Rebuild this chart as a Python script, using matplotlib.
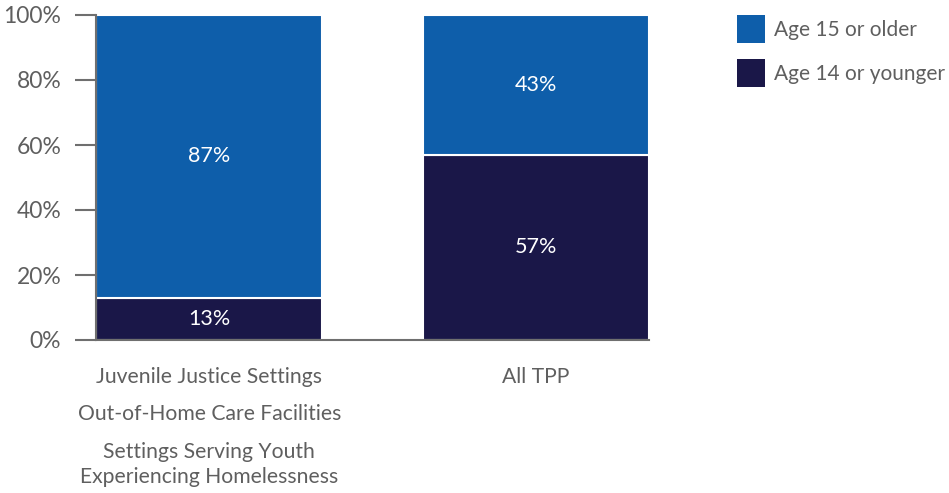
import matplotlib.pyplot as plt
import numpy as np
from matplotlib.patches import Patch

# data
categories = ['Juvenile Justice Settings\nOut-of-Home Care Facilities\nSettings Serving Youth\nExperiencing Homelessness', 'All TPP']
age14_younger = [13, 57]
age15_older = [87, 43]
series_names = ['Age 15 or older', 'Age 14 or younger']
yticks = [0, 20, 40, 60, 80, 100]

c_old = '#0E5EAA'
c_young = '#1A1748'
grey = '#5F5F5F'

plt.rcParams['font.family'] = ['Lato', 'DejaVu Sans']

fig = plt.figure(figsize=(9.49, 4.93), dpi=100)
ax = fig.add_axes([96/949, (493-340)/493, (649-96)/949, 325/493])

x = np.arange(len(categories))
w = 226/326
ax.bar(x, age14_younger, w, color=c_young, edgecolor='white', linewidth=1.5)
ax.bar(x, age15_older, w, bottom=age14_younger, color=c_old, edgecolor='white', linewidth=1.5)

for i in range(len(x)):
    ax.text(x[i], age14_younger[i]/2, '{}%'.format(age14_younger[i]), ha='center', va='center', color='white', fontsize=15.5)
    ax.text(x[i], age14_younger[i] + age15_older[i]/2, '{}%'.format(age15_older[i]), ha='center', va='center', color='white', fontsize=15.5)

ax.set_xlim(-w/2, 1 + w/2)
ax.set_ylim(0, 100)
ax.set_yticks(yticks)
ax.set_yticklabels(['{}%'.format(t) for t in yticks])
ax.tick_params(axis='y', length=15, width=1.5, color='#6F6F6F', labelcolor=grey, labelsize=16.5, pad=10)
ax.set_xticks([])
for s in ['top', 'right']:
    ax.spines[s].set_visible(False)
for s in ['left', 'bottom']:
    ax.spines[s].set_color('#6F6F6F')
    ax.spines[s].set_linewidth(1.5)

# category labels below the axis
first_lines = categories[0].split('\n')
ypos = [-11.4, -22.8, -34.5, -42.2]
for t, yy in zip(first_lines, ypos):
    ax.text(x[0], yy, t, ha='center', va='center', color=grey, fontsize=15.2, clip_on=False)
ax.text(x[1], ypos[0], categories[1], ha='center', va='center', color=grey, fontsize=15.2, clip_on=False)

handles = [Patch(facecolor=c_old), Patch(facecolor=c_young)]
fig.legend(handles, series_names, loc='upper left', bbox_to_anchor=(737/949, 1 - 15/493),
           frameon=False, fontsize=15, labelcolor=grey, handlelength=1.35, handleheight=1.7,
           handletextpad=0.45, labelspacing=0.75, borderaxespad=0, borderpad=0)

fig.savefig('out.png', dpi=100)
